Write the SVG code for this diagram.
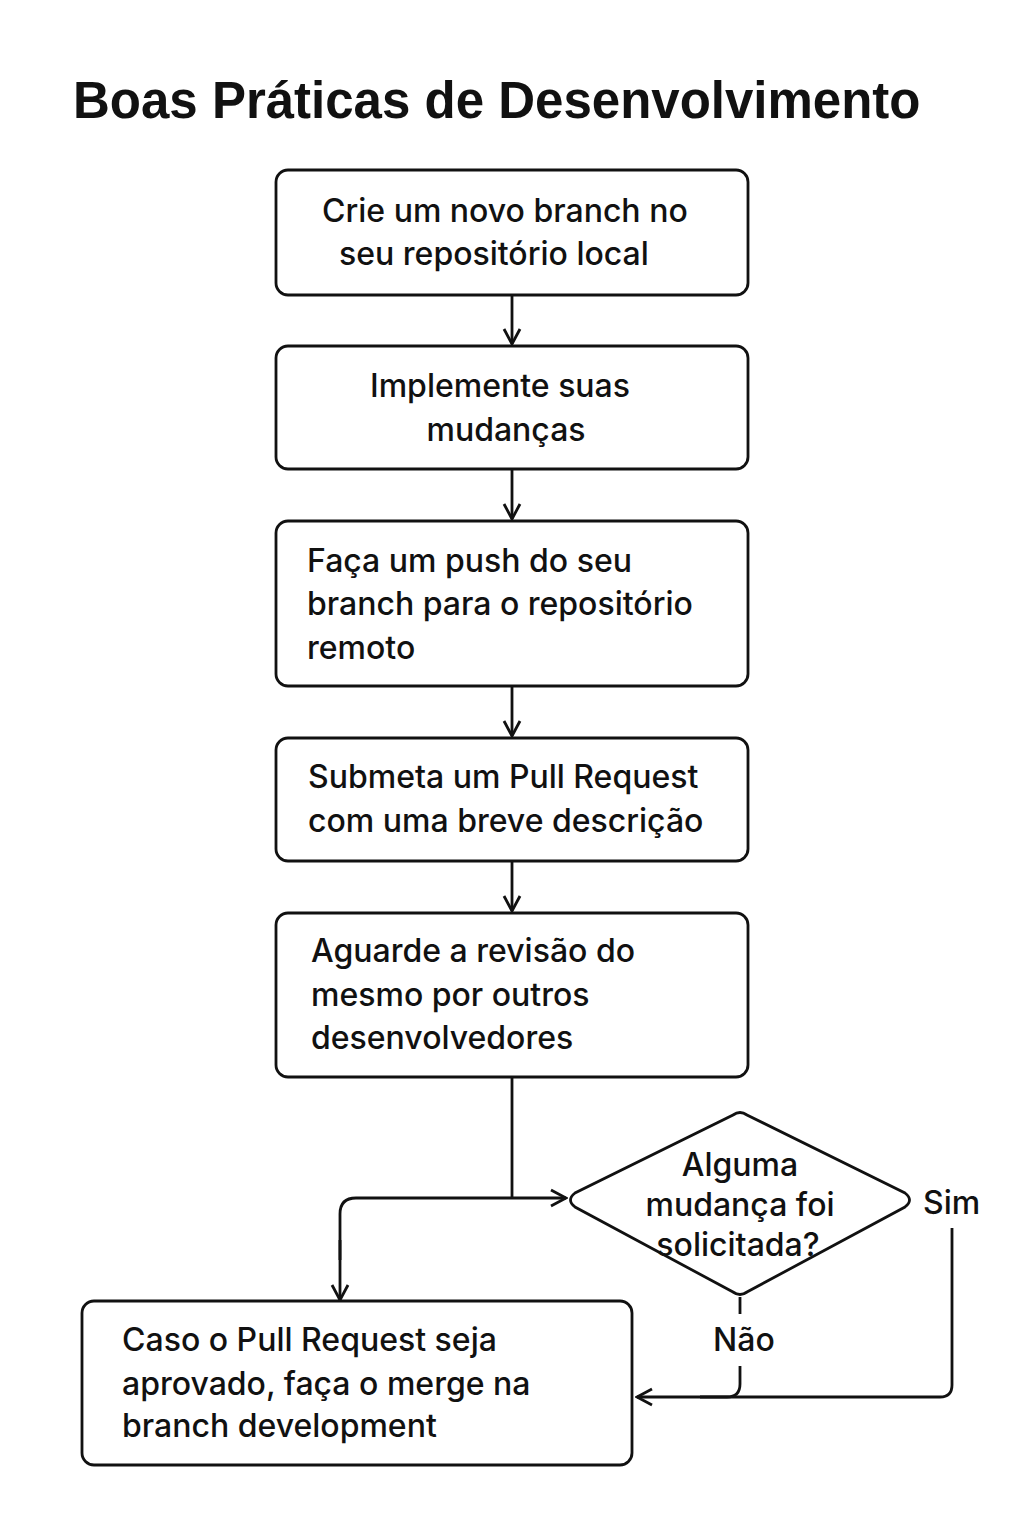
<svg xmlns="http://www.w3.org/2000/svg" width="1024" height="1536" viewBox="0 0 1024 1536">
<defs>
<style>
.box{fill:#fff;stroke:#111;stroke-width:2.8}
.t{font-family:Inter,"Liberation Sans",Arial,sans-serif;font-size:32px;font-weight:500;fill:#111}
.c{text-anchor:middle}
.ln{fill:none;stroke:#111;stroke-width:2.8}
.title{font-family:"Liberation Sans",Arial,sans-serif;font-size:51px;font-weight:bold;fill:#111}
</style>
<marker id="ah" viewBox="0 0 20 20" refX="18" refY="10" markerWidth="20" markerHeight="20" markerUnits="userSpaceOnUse" orient="auto">
<path d="M3,2 L18,10 L3,18" fill="none" stroke="#111" stroke-width="2.8"/>
</marker>
</defs>
<rect width="1024" height="1536" fill="#fff"/>
<text class="title" x="73" y="118">Boas Práticas de Desenvolvimento</text>

<g id="connectors">
<line class="ln" x1="512" y1="295" x2="512" y2="344" marker-end="url(#ah)"/>
<line class="ln" x1="512" y1="469" x2="512" y2="519" marker-end="url(#ah)"/>
<line class="ln" x1="512" y1="686" x2="512" y2="736" marker-end="url(#ah)"/>
<line class="ln" x1="512" y1="861" x2="512" y2="911" marker-end="url(#ah)"/>
<line class="ln" x1="512" y1="1077" x2="512" y2="1198"/>
<path class="ln" d="M340,1260 L340,1214 Q340,1198 356,1198 L566,1198" marker-end="url(#ah)"/>
<line class="ln" x1="340" y1="1240" x2="340" y2="1300" marker-end="url(#ah)"/>
<line class="ln" x1="740" y1="1297" x2="740" y2="1314"/>
<path class="ln" d="M740,1366 L740,1384 Q740,1397 727,1397 L637,1397" marker-end="url(#ah)"/>
<path class="ln" d="M952,1228 L952,1385 Q952,1397 940,1397 L700,1397"/>
</g>

<g id="n1">
<rect class="box" x="276" y="170" width="472" height="125" rx="12"/>
<text class="t" x="322" y="222">Crie um novo branch no</text>
<text class="t" x="339" y="265">seu repositório local</text>
</g>
<g id="n2">
<rect class="box" x="276" y="346" width="472" height="123" rx="12"/>
<text class="t c" x="500" y="397">Implemente suas</text>
<text class="t c" x="506" y="441">mudanças</text>
</g>
<g id="n3">
<rect class="box" x="276" y="521" width="472" height="165" rx="12"/>
<text class="t" x="307" y="572">Faça um push do seu</text>
<text class="t" x="307" y="615">branch para o repositório</text>
<text class="t" x="307" y="659">remoto</text>
</g>
<g id="n4">
<rect class="box" x="276" y="738" width="472" height="123" rx="12"/>
<text class="t" x="308" y="788">Submeta um Pull Request</text>
<text class="t" x="308" y="832">com uma breve descrição</text>
</g>
<g id="n5">
<rect class="box" x="276" y="913" width="472" height="164" rx="12"/>
<text class="t" x="311" y="962">Aguarde a revisão do</text>
<text class="t" x="311" y="1006">mesmo por outros</text>
<text class="t" x="311" y="1049">desenvolvedores</text>
</g>
<g id="d1">
<path class="box" d="M733,1115 Q740,1110 747,1115 L905,1193 Q914,1200 905,1207 L747,1292 Q740,1297 733,1292 L575,1207 Q566,1200 575,1193 Z"/>
<text class="t c" x="740" y="1176">Alguma</text>
<text class="t c" x="740" y="1216">mudança foi</text>
<text class="t c" x="738" y="1256">solicitada?</text>
</g>
<g id="lbl">
<text class="t" x="923" y="1214">Sim</text>
<text class="t" x="713" y="1351">Não</text>
</g>
<g id="n6">
<rect class="box" x="82" y="1301" width="550" height="164" rx="12"/>
<text class="t" x="122" y="1351">Caso o Pull Request seja</text>
<text class="t" x="122" y="1395">aprovado, faça o merge na</text>
<text class="t" x="122" y="1437">branch development</text>
</g>
</svg>
